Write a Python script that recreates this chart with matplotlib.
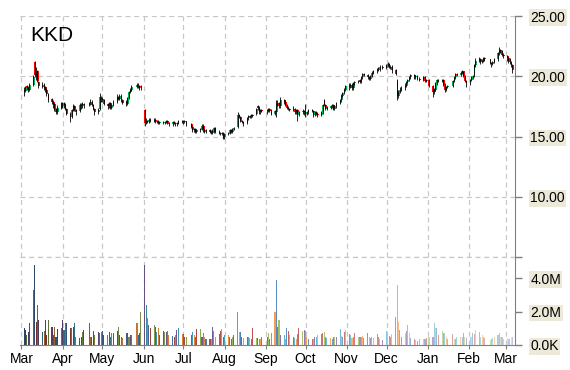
import pandas as pd
import numpy as np
import matplotlib
matplotlib.use("Agg")
import matplotlib.pyplot as plt
import matplotlib.dates as mdates
from matplotlib.colors import to_rgb

plt.rcParams["font.family"] = ["Liberation Sans", "DejaVu Sans"]

# trading days Mar 2014 - Mar 2015 (NYSE holidays removed)
holidays = ["2014-04-18", "2014-05-26", "2014-07-04", "2014-09-01", "2014-11-27",
            "2014-12-25", "2015-01-01", "2015-01-19", "2015-02-16"]
dates = pd.bdate_range("2014-03-03", "2015-03-06").drop(pd.to_datetime(holidays))

open_ = [
    # Mar
    18.9, 18.8, 19.2, 19.0, 18.9, 19.3, 21.2, 20.0, 20.4, 19.5, 19.1, 19.3, 19.1, 18.9, 18.5, 18.1, 17.9, 17.7, 17.3, 17.0, 17.4,
    # Apr
    17.8, 17.5, 17.7, 17.3, 16.9, 16.6, 17.2, 17.5, 17.2, 17.1, 17.6, 17.5, 17.7, 17.6, 17.8, 17.9, 17.6, 17.3, 17.0, 17.3, 18.2,
    # May
    18.1, 18.0, 17.7, 17.5, 17.8, 17.4, 17.6, 17.9, 18.3, 18.1, 18.4, 18.0, 17.9, 17.7, 18.2, 18.7, 18.9, 19.1, 19.3, 19.2, 19.0,
    # Jun
    17.2, 16.1, 16.3, 16.2, 16.4, 16.3, 16.4, 16.2, 16.3, 16.1, 16.2, 16.1, 16.2, 16.3, 16.1, 16.0, 16.2, 16.1, 16.0, 16.1, 16.3,
    # Jul
    16.2, 16.2, 16.3, 16.0, 15.8, 15.5, 15.6, 15.4, 15.5, 15.6, 15.9, 15.5, 15.4, 15.5, 15.4, 15.3, 15.4, 15.7, 15.4, 15.3, 15.2, 15.3,
    # Aug
    15.0, 15.2, 15.3, 15.5, 15.4, 15.6, 15.8, 16.8, 16.6, 16.3, 16.2, 16.1, 16.5, 16.7, 16.6, 16.8, 16.9, 17.5, 17.4, 17.0, 17.2,
    # Sep
    17.1, 17.1, 17.3, 17.2, 16.9, 17.0, 17.7, 17.8, 17.5, 18.0, 17.9, 17.6, 17.4, 17.3, 17.2, 17.3, 17.0, 17.2, 16.8, 17.0, 17.1,
    # Oct
    17.0, 16.9, 17.0, 17.2, 17.1, 16.8, 17.0, 16.9, 16.8, 17.0, 18.0, 17.6, 17.3, 17.4, 17.5, 17.6, 17.3, 17.5, 17.8, 18.0, 18.4, 18.6, 18.9,
    # Nov
    19.2, 19.1, 19.3, 19.0, 19.4, 19.5, 19.7, 19.5, 19.9, 20.2, 20.1, 19.9, 19.8, 20.0, 20.3, 20.4, 20.7, 20.5, 20.8,
    # Dec
    20.7, 20.9, 21.0, 20.8, 20.8, 20.5, 19.6, 18.4, 18.7, 18.9, 19.0, 19.2, 19.5, 19.7, 19.9, 20.1, 19.9, 20.0, 19.8, 19.7, 19.9, 19.6,
    # Jan
    19.7, 19.2, 18.7, 18.9, 19.4, 19.7, 19.6, 19.7, 19.3, 18.9, 19.1, 19.2, 19.6, 19.9, 20.2, 20.1, 20.3, 20.4, 20.0, 19.6,
    # Feb
    19.4, 19.7, 19.9, 20.0, 20.9, 21.3, 21.4, 21.2, 21.3, 21.5, 21.4, 21.1, 21.0, 21.2, 21.4, 21.9, 22.2, 22.1, 21.8,
    # Mar
    21.7, 21.5, 21.4, 21.2, 20.9,
]
high = [
    19.1, 19.2, 19.3, 19.2, 19.4, 20.1, 21.3, 20.8, 20.5, 19.6, 19.5, 19.4, 19.2, 19.0, 18.6, 18.2, 18.0, 17.8, 17.4, 17.6, 17.9,
    17.9, 17.9, 17.8, 17.4, 17.0, 17.3, 17.7, 17.6, 17.3, 17.8, 17.8, 17.9, 17.8, 17.9, 18.1, 18.0, 17.7, 17.4, 17.4, 18.6, 18.4,
    18.3, 18.1, 17.8, 17.9, 17.9, 17.7, 18.0, 18.5, 18.4, 18.5, 18.5, 18.1, 18.0, 18.3, 18.8, 19.0, 19.3, 19.4, 19.4, 19.3, 19.3,
    17.3, 16.5, 16.4, 16.5, 16.5, 16.5, 16.5, 16.4, 16.4, 16.3, 16.3, 16.3, 16.4, 16.4, 16.2, 16.3, 16.3, 16.2, 16.2, 16.4, 16.4,
    16.4, 16.4, 16.3, 16.1, 15.9, 15.7, 15.7, 15.6, 15.7, 16.0, 16.0, 15.6, 15.6, 15.6, 15.5, 15.6, 15.8, 15.8, 15.5, 15.4, 15.4, 15.4,
    15.3, 15.4, 15.6, 15.6, 15.7, 15.8, 17.0, 16.9, 16.7, 16.4, 16.3, 16.6, 16.8, 16.8, 16.9, 16.9, 17.4, 17.6, 17.5, 17.3, 17.3,
    17.3, 17.4, 17.4, 17.3, 17.2, 18.0, 18.0, 17.9, 18.3, 18.1, 18.0, 17.7, 17.5, 17.4, 17.5, 17.4, 17.3, 17.3, 17.1, 17.3, 17.2,
    17.7, 17.1, 17.3, 17.3, 17.2, 17.1, 17.1, 17.0, 17.1, 17.7, 18.1, 17.7, 17.5, 17.6, 17.7, 17.7, 17.6, 17.9, 18.1, 18.5, 18.7, 19.0, 19.3,
    19.4, 19.4, 19.4, 19.5, 19.6, 19.7, 19.8, 20.0, 20.3, 20.3, 20.2, 20.0, 20.1, 20.4, 20.5, 20.7, 20.8, 20.9, 20.9,
    21.0, 21.2, 21.1, 20.9, 20.9, 20.6, 19.8, 18.9, 19.1, 19.2, 19.4, 19.6, 19.8, 20.0, 20.2, 20.2, 20.1, 20.1, 19.9, 20.0, 20.0, 19.8,
    19.8, 19.3, 19.0, 19.5, 19.8, 19.8, 19.8, 19.8, 19.4, 19.2, 19.3, 19.7, 20.0, 20.3, 20.3, 20.4, 20.5, 20.4, 20.1, 19.7,
    19.8, 20.0, 20.1, 21.0, 21.5, 21.6, 21.5, 21.4, 21.6, 21.6, 21.4, 21.2, 21.3, 21.5, 22.0, 22.4, 22.3, 22.2, 21.9,
    21.8, 21.6, 21.5, 21.3, 21.0,
]
low = [
    18.4, 18.7, 18.9, 18.7, 18.8, 19.2, 19.9, 19.7, 19.5, 19.0, 19.0, 18.9, 18.7, 18.4, 17.9, 17.7, 17.4, 17.1, 16.9, 16.9, 17.3,
    17.4, 17.4, 17.2, 16.8, 16.2, 16.5, 17.1, 17.1, 16.8, 17.0, 17.3, 17.4, 17.4, 17.5, 17.6, 17.5, 17.2, 16.8, 16.9, 17.2, 17.9,
    17.9, 17.6, 17.3, 17.4, 17.3, 17.3, 17.5, 17.8, 18.0, 18.0, 17.9, 17.7, 17.5, 17.6, 18.1, 18.6, 18.8, 19.0, 19.0, 18.9, 18.9,
    15.9, 16.0, 16.1, 16.1, 16.2, 16.2, 16.1, 16.1, 16.0, 16.0, 16.0, 16.0, 16.1, 16.0, 15.9, 15.9, 16.0, 15.9, 15.9, 16.0, 16.1,
    16.0, 16.1, 15.9, 15.7, 15.4, 15.4, 15.3, 15.3, 15.4, 15.5, 15.4, 15.3, 15.3, 15.3, 15.2, 15.2, 15.3, 15.3, 15.2, 15.1, 15.1, 14.8,
    14.8, 15.1, 15.2, 15.3, 15.3, 15.5, 15.7, 16.5, 16.2, 16.1, 15.9, 16.0, 16.4, 16.5, 16.5, 16.6, 16.8, 17.2, 16.9, 16.9, 17.0,
    16.9, 17.0, 17.0, 16.8, 16.8, 16.6, 17.5, 17.4, 17.4, 17.7, 17.5, 17.3, 17.2, 17.1, 17.1, 16.9, 16.9, 16.3, 16.7, 16.9, 16.8,
    16.6, 16.8, 16.9, 17.0, 16.6, 16.7, 16.8, 16.6, 16.7, 16.9, 17.5, 17.2, 17.2, 17.3, 17.4, 17.2, 17.2, 17.4, 17.7, 17.9, 18.3, 18.5, 18.8,
    18.9, 19.0, 18.9, 18.9, 19.3, 19.4, 19.4, 19.4, 19.8, 20.0, 19.8, 19.7, 19.7, 19.9, 20.2, 20.3, 20.4, 20.4, 20.6,
    20.6, 20.8, 20.7, 20.6, 20.3, 20.1, 18.0, 18.2, 18.6, 18.8, 18.9, 19.1, 19.4, 19.6, 19.8, 19.8, 19.8, 19.7, 19.6, 19.6, 19.5, 19.5,
    19.1, 18.3, 18.5, 18.8, 19.3, 19.5, 19.5, 19.2, 18.7, 18.8, 19.0, 19.1, 19.5, 19.8, 20.0, 20.0, 20.2, 19.9, 19.5, 19.1,
    19.3, 19.6, 19.8, 19.9, 20.8, 21.2, 21.0, 21.1, 21.2, 21.3, 21.0, 20.8, 20.9, 21.1, 21.3, 21.8, 21.9, 21.7, 21.5,
    21.3, 21.1, 21.0, 20.8, 20.3,
]
close = [
    18.7, 19.1, 19.0, 18.9, 19.3, 19.9, 20.1, 20.3, 19.6, 19.2, 19.3, 19.0, 18.9, 18.5, 18.0, 17.9, 17.6, 17.2, 17.0, 17.4, 17.8,
    17.6, 17.8, 17.3, 16.9, 16.6, 17.2, 17.5, 17.2, 17.0, 17.6, 17.5, 17.7, 17.6, 17.8, 17.9, 17.6, 17.3, 17.0, 17.2, 18.3, 18.1,
    18.0, 17.7, 17.5, 17.8, 17.4, 17.6, 17.9, 18.3, 18.1, 18.4, 18.0, 17.8, 17.7, 18.2, 18.7, 18.9, 19.1, 19.3, 19.2, 19.0, 19.1,
    16.1, 16.3, 16.2, 16.4, 16.3, 16.4, 16.2, 16.3, 16.1, 16.2, 16.1, 16.2, 16.3, 16.1, 16.0, 16.2, 16.1, 16.0, 16.1, 16.3, 16.2,
    16.2, 16.3, 16.0, 15.8, 15.5, 15.6, 15.4, 15.5, 15.6, 15.9, 15.5, 15.4, 15.5, 15.4, 15.3, 15.5, 15.7, 15.4, 15.3, 15.2, 15.3, 14.9,
    15.2, 15.3, 15.5, 15.4, 15.6, 15.7, 16.8, 16.6, 16.3, 16.2, 16.0, 16.5, 16.7, 16.6, 16.8, 16.7, 17.3, 17.4, 17.0, 17.2, 17.1,
    17.1, 17.3, 17.1, 16.9, 17.1, 17.7, 17.8, 17.5, 18.0, 17.9, 17.6, 17.4, 17.3, 17.2, 17.3, 17.0, 17.2, 16.8, 17.0, 17.1, 17.0,
    16.9, 17.0, 17.2, 17.1, 16.8, 17.0, 16.9, 16.8, 17.0, 17.6, 17.6, 17.3, 17.4, 17.5, 17.6, 17.3, 17.5, 17.8, 18.0, 18.4, 18.6, 18.9, 19.2,
    19.1, 19.3, 19.0, 19.4, 19.5, 19.6, 19.5, 19.9, 20.2, 20.1, 19.9, 19.8, 20.0, 20.3, 20.4, 20.6, 20.5, 20.8, 20.7,
    20.9, 21.0, 20.8, 20.7, 20.5, 20.2, 18.4, 18.7, 18.9, 19.0, 19.2, 19.5, 19.7, 19.9, 20.1, 19.9, 20.0, 19.8, 19.7, 19.9, 19.6, 19.7,
    19.2, 18.7, 18.9, 19.4, 19.7, 19.6, 19.7, 19.3, 18.9, 19.1, 19.2, 19.6, 19.9, 20.2, 20.1, 20.3, 20.4, 20.0, 19.6, 19.4,
    19.7, 19.9, 20.0, 20.9, 21.3, 21.4, 21.2, 21.3, 21.5, 21.4, 21.1, 21.0, 21.2, 21.4, 21.9, 22.2, 22.1, 21.8, 21.7,
    21.5, 21.3, 21.2, 20.9, 20.5,
]
# volume in millions of shares
volume = [
    1.0, 0.9, 0.6, 0.75, 1.3, 3.3, 4.8, 1.4, 2.4, 1.5, 0.8, 0.85, 1.5, 0.6, 1.5, 1.1, 0.6, 1.1, 0.5, 0.95, 1.0,
    1.5, 0.9, 1.3, 1.3, 1.0, 1.0, 1.1, 1.3, 0.5, 0.4, 0.5, 0.75, 0.9, 1.3, 0.5, 0.5, 0.85, 0.6, 0.8, 0.7, 0.75,
    0.85, 0.6, 0.6, 0.8, 0.5, 0.7, 0.7, 0.85, 1.1, 0.6, 0.5, 0.4, 0.7, 0.7, 0.5, 0.6, 0.6, 1.3, 0.6, 0.7, 2.0,
    4.8, 2.4, 1.6, 1.2, 1.0, 1.2, 1.1, 0.75, 1.0, 0.6, 0.85, 0.75, 0.8, 0.85, 0.6, 0.55, 0.5, 0.6, 0.9, 1.0, 0.65,
    0.64, 0.5, 0.45, 0.58, 0.8, 0.58, 0.5, 0.94, 0.94, 0.5, 0.7, 0.45, 0.34, 0.38, 0.34, 1.1, 0.84, 0.5, 0.64, 0.84, 0.94, 0.5,
    0.6, 0.58, 0.5, 0.38, 0.5, 0.58, 2.0, 0.78, 0.78, 0.5, 0.44, 0.5, 0.5, 0.44, 0.38, 1.0, 0.44, 0.4, 0.38, 0.34, 0.5,
    0.5, 0.7, 0.34, 0.7, 2.0, 3.9, 1.1, 1.5, 0.58, 0.58, 0.38, 1.0, 0.84, 0.58, 0.5, 0.44, 0.38, 0.64, 1.0, 0.84, 0.9,
    0.84, 0.5, 0.38, 0.38, 0.38, 0.5, 0.45, 0.58, 0.68, 0.74, 0.78, 0.5, 0.44, 0.44, 0.38, 0.5, 0.45, 0.5, 0.94, 0.54, 0.5, 0.78, 0.9,
    0.64, 0.58, 0.44, 0.5, 0.74, 0.5, 0.5, 0.5, 0.54, 0.44, 0.7, 0.45, 0.4, 0.5, 0.44, 0.64, 0.5, 0.38, 0.3,
    0.86, 0.74, 0.54, 0.5, 0.64, 1.7, 3.6, 1.35, 0.9, 0.5, 0.74, 0.84, 1.2, 0.74, 0.44, 0.38, 0.3, 0.25, 0.38, 0.34, 0.34, 0.44,
    0.5, 0.5, 1.34, 1.0, 1.0, 0.6, 0.86, 0.74, 0.74, 0.5, 0.34, 0.64, 0.38, 0.38, 0.45, 0.5, 0.5, 0.7, 0.5, 0.44,
    0.5, 0.45, 0.74, 0.64, 0.9, 0.78, 0.5, 0.58, 0.45, 0.4, 0.3, 0.34, 0.44, 0.45, 0.58, 0.7, 0.45, 0.5, 0.38,
    0.4, 0.38, 0.34, 0.45, 0.5,
]

for name, arr in [("open", open_), ("high", high), ("low", low), ("close", close), ("volume", volume)]:
    assert len(arr) == len(dates), f"{name}: {len(arr)} vs {len(dates)}"

df = pd.DataFrame({"open": open_, "high": high, "low": low, "close": close,
                   "volume": volume}, index=dates)
x = mdates.date2num(df.index.to_pydatetime())

GRID = "#c8c8c8"
AXC = "#808080"
LABEL_BG = "#ece9d8"
UP, DOWN = "#00b050", "#ff0000"
palette = ["#4f81bd", "#c0504d", "#9bbb59", "#8064a2", "#4bacc6", "#f79646"]

fig = plt.figure(figsize=(5.7, 3.7), dpi=100)
L, W = 20 / 570, 495 / 570
ax = fig.add_axes([L, 1 - 257 / 370, W, 241 / 370])
axv = fig.add_axes([L, 1 - 345 / 370, W, 88 / 370], sharex=ax)

# candles: colored body, thin black wick on top
up = df["close"] >= df["open"]
body_lo = np.minimum(df["open"], df["close"])
body_h = np.maximum((df["close"] - df["open"]).abs(), 0.06)
ax.bar(x + 0.25, body_h, bottom=body_lo, width=1.3, color=np.where(up, UP, DOWN),
       linewidth=0, zorder=3)
ax.vlines(x - 0.2, df["low"], df["high"], color="black", linewidth=0.6, zorder=4)

# volume bars: cycling palette, darker early and fading later
n = len(x)
vcols = []
for i in range(n):
    r, g, b = to_rgb(palette[i % len(palette)])
    t = i / (n - 1)
    if t < 0.45:
        k = 0.45 * (1 - t / 0.45)
        c = (r * (1 - k), g * (1 - k), b * (1 - k))
    else:
        k = 0.6 * (t - 0.45) / 0.55
        c = (r + (1 - r) * k, g + (1 - g) * k, b + (1 - b) * k)
    vcols.append(c)
axv.bar(x, df["volume"], width=0.8, color=vcols, linewidth=0, zorder=3)

xmin = mdates.date2num(pd.Timestamp("2014-02-27 21:00"))
xmax = mdates.date2num(pd.Timestamp("2015-03-07 19:00"))
ax.set_xlim(xmin, xmax)
ax.set_ylim(5, 25)
vmax = 88 / 16.75
axv.set_ylim(0, vmax)

months = pd.date_range("2014-03-01", "2015-03-01", freq="MS")
axv.set_xticks(mdates.date2num(months.to_pydatetime()))
axv.set_xticklabels([m.strftime("%b") for m in months])
ax.tick_params(axis="x", which="both", bottom=False, labelbottom=False)

dash = (0, (4, 3))
for a in (ax, axv):
    a.grid(True, axis="x", linestyle=dash, color=GRID, linewidth=0.9)
    a.set_axisbelow(True)
    for s in ("left", "top"):
        a.spines[s].set_visible(False)
    a.spines["right"].set_color(AXC)
    a.yaxis.tick_right()
    a.tick_params(axis="y", colors=AXC, length=5, width=1, labelcolor="black",
                  labelsize=10, pad=6)
ax.spines["bottom"].set_visible(False)
axv.spines["bottom"].set_color(AXC)
axv.tick_params(axis="x", colors=AXC, length=3, labelcolor="black", labelsize=10, pad=2)
ax.grid(True, axis="y", linestyle=dash, color=GRID, linewidth=0.9)
axv.axhline(vmax, linestyle=dash, color=GRID, linewidth=0.9, zorder=1, clip_on=False)

ax.set_yticks([5, 10, 15, 20, 25])
ax.set_yticklabels(["", "10.00", "15.00", "20.00", "25.00"])
axv.set_yticks([0, 2, 4])
axv.set_yticklabels(["0.0K", "2.0M", "4.0M"])
for a in (ax, axv):
    for lbl in a.get_yticklabels():
        if lbl.get_text():
            lbl.set_bbox(dict(facecolor=LABEL_BG, edgecolor="none", pad=1.0))

ax.text(0.02, 0.896, "KKD", transform=ax.transAxes, fontsize=15, va="baseline", ha="left")

fig.savefig("out.png", dpi=100)
